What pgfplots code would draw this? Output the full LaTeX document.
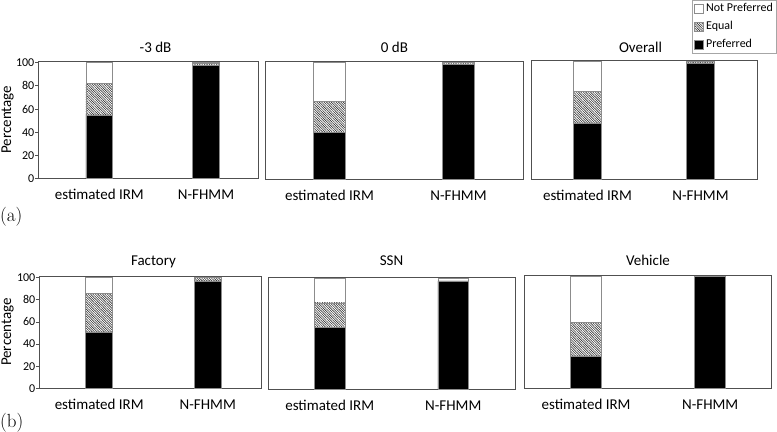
\documentclass[border=0pt]{standalone}
\usepackage{pgfplots}
\pgfplotsset{compat=1.18}
\usepackage{fontspec}
\usetikzlibrary{patterns,patterns.meta}
\newfontfamily\calfont{Carlito}
\definecolor{frame}{HTML}{505050}
\definecolor{barline}{HTML}{8C8C8C}
\pgfplotsset{
  panel/.style={
    scale only axis,
    ybar stacked,
    bar width=0.25,
    ymin=0, ymax=101.5,
    xmin=-0.5, xmax=1.5,
    xtick={0,1},
    xticklabels={estimated IRM, N-FHMM},
    xtick style={draw=none},
    xticklabel style={font=\calfont\fontsize{15bp}{18bp}\selectfont, anchor=base, yshift=-21.5bp},
    axis line style={draw=frame, line width=0.9bp},
    ytick=\empty,
    clip=false,
  },
  ylab/.style={
    ytick={0,20,...,100}, ytick pos=left,
    major tick length=3.5bp,
    ytick style={draw=frame, line width=0.8bp, xshift=-3.5bp},
    yticklabel style={font=\calfont\fontsize{12bp}{14bp}\selectfont, xshift=-3bp, inner sep=1bp},
    /pgf/number format/assume math mode=true,
  },
  legsq/.style={legend image code/.code={\draw[##1] (0bp,-4.5bp) rectangle (9bp,4.5bp);}},
  pref/.style={fill=black, draw=barline, line width=0.6bp, legsq},
  equal/.style={pattern={Lines[angle=-45, distance=1.7bp, line width=0.6bp]}, pattern color=black!80, draw=barline, line width=0.6bp, legsq},
  notp/.style={fill=white, draw=barline, line width=0.6bp, legsq},
}
\begin{document}
\begin{tikzpicture}
\path[use as bounding box] (0,0) rectangle (777bp,432bp);

% (a) -3 dB
\begin{axis}[panel, ylab, at={(38.5bp,253.5bp)}, anchor=south west,
  width=219.8bp, height=117.5bp, xmin=-0.57, xmax=1.49]
\addplot[pref]  coordinates {(0,55) (1,98)};
\addplot[equal] coordinates {(0,27) (1,1.5)};
\addplot[notp]  coordinates {(0,18) (1,0.5)};
\end{axis}

% (a) 0 dB
\begin{axis}[panel, at={(265bp,252.7bp)}, anchor=south west,
  width=258bp, height=118.3bp]
\addplot[pref]  coordinates {(0,40) (1,98.5)};
\addplot[equal] coordinates {(0,27) (1,1.5)};
\addplot[notp]  coordinates {(0,33) (1,0)};
\end{axis}

% (a) Overall
\begin{axis}[panel, at={(531bp,252.7bp)}, anchor=south west,
  width=226bp, height=119.3bp,
  reverse legend, legend cell align=left,
  legend style={at={(0.711,1.503)}, anchor=north west, draw=gray!70, line width=0.6bp,
    font=\calfont\fontsize{12bp}{14bp}\selectfont, inner sep=2bp, row sep=5bp,
    nodes={inner sep=1bp, text height=8.5bp, text depth=2.5bp},
    /tikz/every odd column/.append style={column sep=1.5bp}}]
\addplot[pref]  coordinates {(0,48) (1,99)};
\addplot[equal] coordinates {(0,27) (1,1)};
\addplot[notp]  coordinates {(0,25) (1,0)};
\legend{Preferred, Equal, Not Preferred}
\end{axis}

% (b) Factory
\begin{axis}[panel, ylab, at={(39.5bp,43.7bp)}, anchor=south west,
  width=221.5bp, height=112.3bp, xmin=-0.55, xmax=1.49]
\addplot[pref]  coordinates {(0,51) (1,97)};
\addplot[equal] coordinates {(0,35) (1,3)};
\addplot[notp]  coordinates {(0,14) (1,0)};
\end{axis}

% (b) SSN
\begin{axis}[panel, at={(268bp,43bp)}, anchor=south west,
  width=247bp, height=112bp]
\addplot[pref]  coordinates {(0,56) (1,98)};
\addplot[equal] coordinates {(0,22) (1,0)};
\addplot[notp]  coordinates {(0,22) (1,2)};
\end{axis}

% (b) Vehicle
\begin{axis}[panel, at={(524bp,43.7bp)}, anchor=south west,
  width=247bp, height=113.3bp, xmax=1.49]
\addplot[pref]  coordinates {(0,29) (1,100)};
\addplot[equal] coordinates {(0,30) (1,0)};
\addplot[notp]  coordinates {(0,41) (1,0)};
\end{axis}

% titles
\begin{scope}[every node/.style={anchor=base, font=\calfont\fontsize{15bp}{18bp}\selectfont, inner sep=0pt}]
\node at (155.5bp,379.5bp) {-3 dB};
\node at (394.5bp,379.5bp) {0 dB};
\node at (640.5bp,379.5bp) {Overall};
\node at (153.5bp,166bp) {Factory};
\node at (391.5bp,166bp) {SSN};
\node at (648bp,166bp) {Vehicle};
\node[rotate=90] at (11bp,312.2bp) {Percentage};
\node[rotate=90] at (11bp,100bp) {Percentage};
\end{scope}

% panel labels
\node[anchor=base west, inner sep=0pt, font=\fontsize{19bp}{22bp}\selectfont] at (0bp,210.3bp) {(a)};
\node[anchor=base west, inner sep=0pt, font=\fontsize{19bp}{22bp}\selectfont] at (0bp,4.7bp) {(b)};
\end{tikzpicture}
\end{document}
